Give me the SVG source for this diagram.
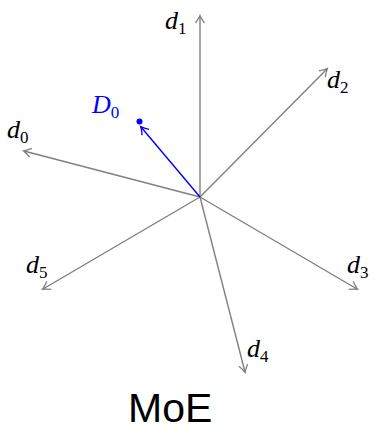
<svg xmlns="http://www.w3.org/2000/svg" width="377" height="431" viewBox="0 0 377 431">
<style>
.ax{stroke:#808080;stroke-width:1.4;fill:none;marker-end:url(#ag)}
.bl{stroke:#0000ff;stroke-width:1.4;fill:none;marker-end:url(#ab)}
.m{font-family:"Liberation Serif",serif;font-style:italic;font-size:26px;fill:#000}
.s{font-family:"Liberation Serif",serif;font-style:normal;font-size:17px}
.t{font-family:"Liberation Sans",Arial,sans-serif;font-size:41px;fill:#000}
</style>
<defs>
<marker id="ag" markerWidth="12" markerHeight="12" refX="9" refY="6" orient="auto" markerUnits="userSpaceOnUse">
<path d="M2,1.5 Q6,4.5 9.5,6 Q6,7.5 2,10.5" fill="none" stroke="#808080" stroke-width="1.3"/>
</marker>
<marker id="ab" markerWidth="12" markerHeight="12" refX="9" refY="6" orient="auto" markerUnits="userSpaceOnUse">
<path d="M2,1.5 Q6,4.5 9.5,6 Q6,7.5 2,10.5" fill="none" stroke="#0000ff" stroke-width="1.3"/>
</marker>
</defs>
<g id="connectors">
<line class="ax" x1="200" y1="197" x2="200" y2="16"/>
<line class="ax" x1="200" y1="197" x2="327" y2="69"/>
<line class="ax" x1="200" y1="197" x2="24" y2="151"/>
<line class="ax" x1="200" y1="197" x2="43" y2="289"/>
<line class="ax" x1="200" y1="197" x2="357" y2="289"/>
<line class="ax" x1="200" y1="197" x2="245" y2="372"/>
<line class="bl" x1="200" y1="197" x2="141" y2="127"/>
</g>
<g id="D0"><circle cx="139.5" cy="121.5" r="3" fill="#0000ff"/>
<text class="m" x="92" y="113" style="fill:#0000ff">D<tspan class="s" dy="5">0</tspan></text></g>
<g id="d0"><text class="m" x="7" y="138">d<tspan class="s" dy="5">0</tspan></text></g>
<g id="d1"><text class="m" x="165" y="29">d<tspan class="s" dy="5">1</tspan></text></g>
<g id="d2"><text class="m" x="327" y="88">d<tspan class="s" dy="5">2</tspan></text></g>
<g id="d3"><text class="m" x="347" y="273">d<tspan class="s" dy="5">3</tspan></text></g>
<g id="d4"><text class="m" x="247" y="357">d<tspan class="s" dy="5">4</tspan></text></g>
<g id="d5"><text class="m" x="26" y="273">d<tspan class="s" dy="5">5</tspan></text></g>
<g id="title"><text class="t" x="128" y="422">MoE</text></g>
</svg>
